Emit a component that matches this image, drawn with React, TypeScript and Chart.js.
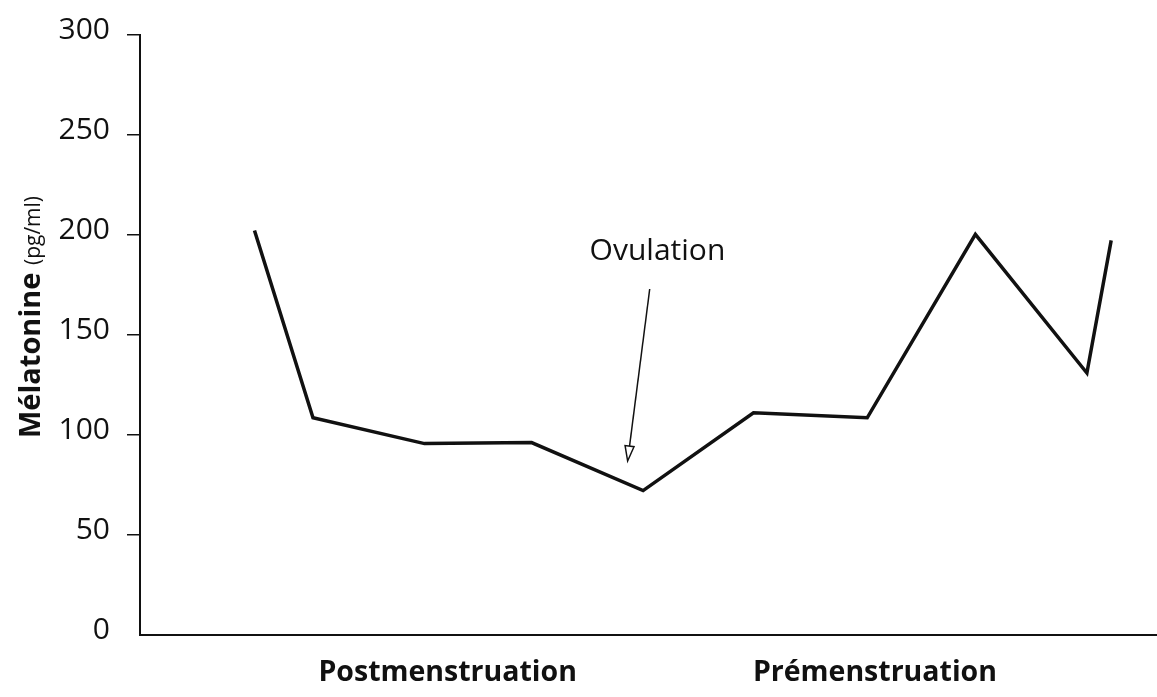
import React, { useEffect, useRef } from "react";
import { Chart, registerables } from "chart.js";

Chart.register(...registerables);

// ---- data ----
const cyclePos = [0.47, 1, 2.01, 2.98, 3.99, 4.99, 6.02, 7.0, 8.01, 8.23];
const melatonin = [202.3, 108.6, 95.7, 96.2, 72.2, 111.1, 108.6, 200.3, 131, 197.3];
const yTicks = [0, 50, 100, 150, 200, 250, 300];
const phaseLabels = ["Postmenstruation", "Prémenstruation"];
const phasePos = [2.22, 6.09];
const ovulationLabel = "Ovulation";
const ovulationText = { x: 4.12, y: 192 };
const ovulationArrowFrom = { x: 4.05, y: 173 };
const ovulationArrowTo = { x: 3.85, y: 87 };
const yTitleMain = "Mélatonine";
const yTitleUnit = "(pg/ml)";

const FONT = "'Open Sans', 'Noto Sans', sans-serif";
const INK = "#111";

const overlayPlugin = {
  id: "overlay",
  afterDraw(chart: any) {
    const ctx = chart.ctx as CanvasRenderingContext2D;
    const xs = chart.scales.x;
    const ys = chart.scales.y;
    ctx.save();
    // y title
    ctx.translate(40, 317);
    ctx.rotate(-Math.PI / 2);
    ctx.fillStyle = INK;
    ctx.textBaseline = "alphabetic";
    ctx.font = `bold 29px ${FONT}`;
    const w1 = ctx.measureText(yTitleMain + " ").width;
    ctx.font = `21px ${FONT}`;
    const w2 = ctx.measureText(yTitleUnit).width;
    const start = -(w1 + w2) / 2;
    ctx.textAlign = "left";
    ctx.font = `bold 29px ${FONT}`;
    ctx.fillText(yTitleMain, start, 0);
    ctx.font = `21px ${FONT}`;
    ctx.fillText(yTitleUnit, start + w1, 0);
    ctx.restore();

    // ovulation annotation
    ctx.save();
    ctx.fillStyle = INK;
    ctx.strokeStyle = INK;
    ctx.font = `30px ${FONT}`;
    ctx.textAlign = "center";
    ctx.textBaseline = "middle";
    ctx.fillText(ovulationLabel, xs.getPixelForValue(ovulationText.x), ys.getPixelForValue(ovulationText.y));
    const fx = xs.getPixelForValue(ovulationArrowFrom.x);
    const fy = ys.getPixelForValue(ovulationArrowFrom.y);
    const tx = xs.getPixelForValue(ovulationArrowTo.x);
    const ty = ys.getPixelForValue(ovulationArrowTo.y);
    const ang = Math.atan2(ty - fy, tx - fx);
    const headLen = 15;
    const headHalf = 4.5;
    const bx = tx - headLen * Math.cos(ang);
    const by = ty - headLen * Math.sin(ang);
    ctx.lineWidth = 1.5;
    ctx.beginPath();
    ctx.moveTo(fx, fy);
    ctx.lineTo(bx, by);
    ctx.stroke();
    ctx.beginPath();
    ctx.moveTo(tx, ty);
    ctx.lineTo(bx + headHalf * Math.sin(ang), by - headHalf * Math.cos(ang));
    ctx.lineTo(bx - headHalf * Math.sin(ang), by + headHalf * Math.cos(ang));
    ctx.closePath();
    ctx.fillStyle = "#fff";
    ctx.fill();
    ctx.stroke();
    ctx.restore();
  },
};

export default function App() {
  const ref = useRef<HTMLCanvasElement | null>(null);
  useEffect(() => {
    if (!ref.current) return;
    const chart = new Chart(ref.current, {
      type: "line",
      data: {
        datasets: [
          {
            data: cyclePos.map((x, i) => ({ x, y: melatonin[i] })),
            borderColor: INK,
            borderWidth: 3.5,
            pointRadius: 0,
            tension: 0,
            fill: false,
          },
        ],
      },
      options: {
        animation: false,
        responsive: false,
        layout: { padding: { top: 33, right: 0, left: 0, bottom: 0 } },
        plugins: { legend: { display: false }, tooltip: { enabled: false } },
        scales: {
          x: {
            type: "linear",
            min: -0.567,
            max: 8.645,
            grid: { display: false, drawTicks: false },
            border: { display: true, color: INK, width: 2 },
            afterBuildTicks: (scale: any) => {
              scale.ticks = phasePos.map((v) => ({ value: v }));
            },
            afterFit: (scale: any) => {
              scale.height = 62;
            },
            ticks: {
              autoSkip: false,
              maxRotation: 0,
              padding: 21,
              color: INK,
              font: { family: FONT, size: 28.5, weight: "bold" },
              callback: (_v: any, i: number) => phaseLabels[i],
            },
          },
          y: {
            type: "linear",
            min: 0,
            max: 300,
            afterBuildTicks: (scale: any) => {
              scale.ticks = yTicks.map((v) => ({ value: v }));
            },
            afterFit: (scale: any) => {
              scale.width = 140;
            },
            grid: {
              display: true,
              drawOnChartArea: false,
              drawTicks: true,
              tickLength: 13,
              lineWidth: 1.5,
              color: (c: any) => (c.tick && c.tick.value === 0 ? "rgba(0,0,0,0)" : INK),
            },
            border: { display: true, color: INK, width: 2 },
            ticks: {
              padding: 17,
              labelOffset: -5,
              color: INK,
              font: { family: FONT, size: 30 },
            },
          },
        },
      },
      plugins: [overlayPlugin],
    });
    return () => chart.destroy();
  }, []);
  return (
    <div style={{ position: "fixed", left: 0, top: 0, width: 1157, height: 697, background: "#fff" }}>
      <canvas ref={ref} width={1157} height={697} style={{ width: 1157, height: 697 }} />
    </div>
  );
}
